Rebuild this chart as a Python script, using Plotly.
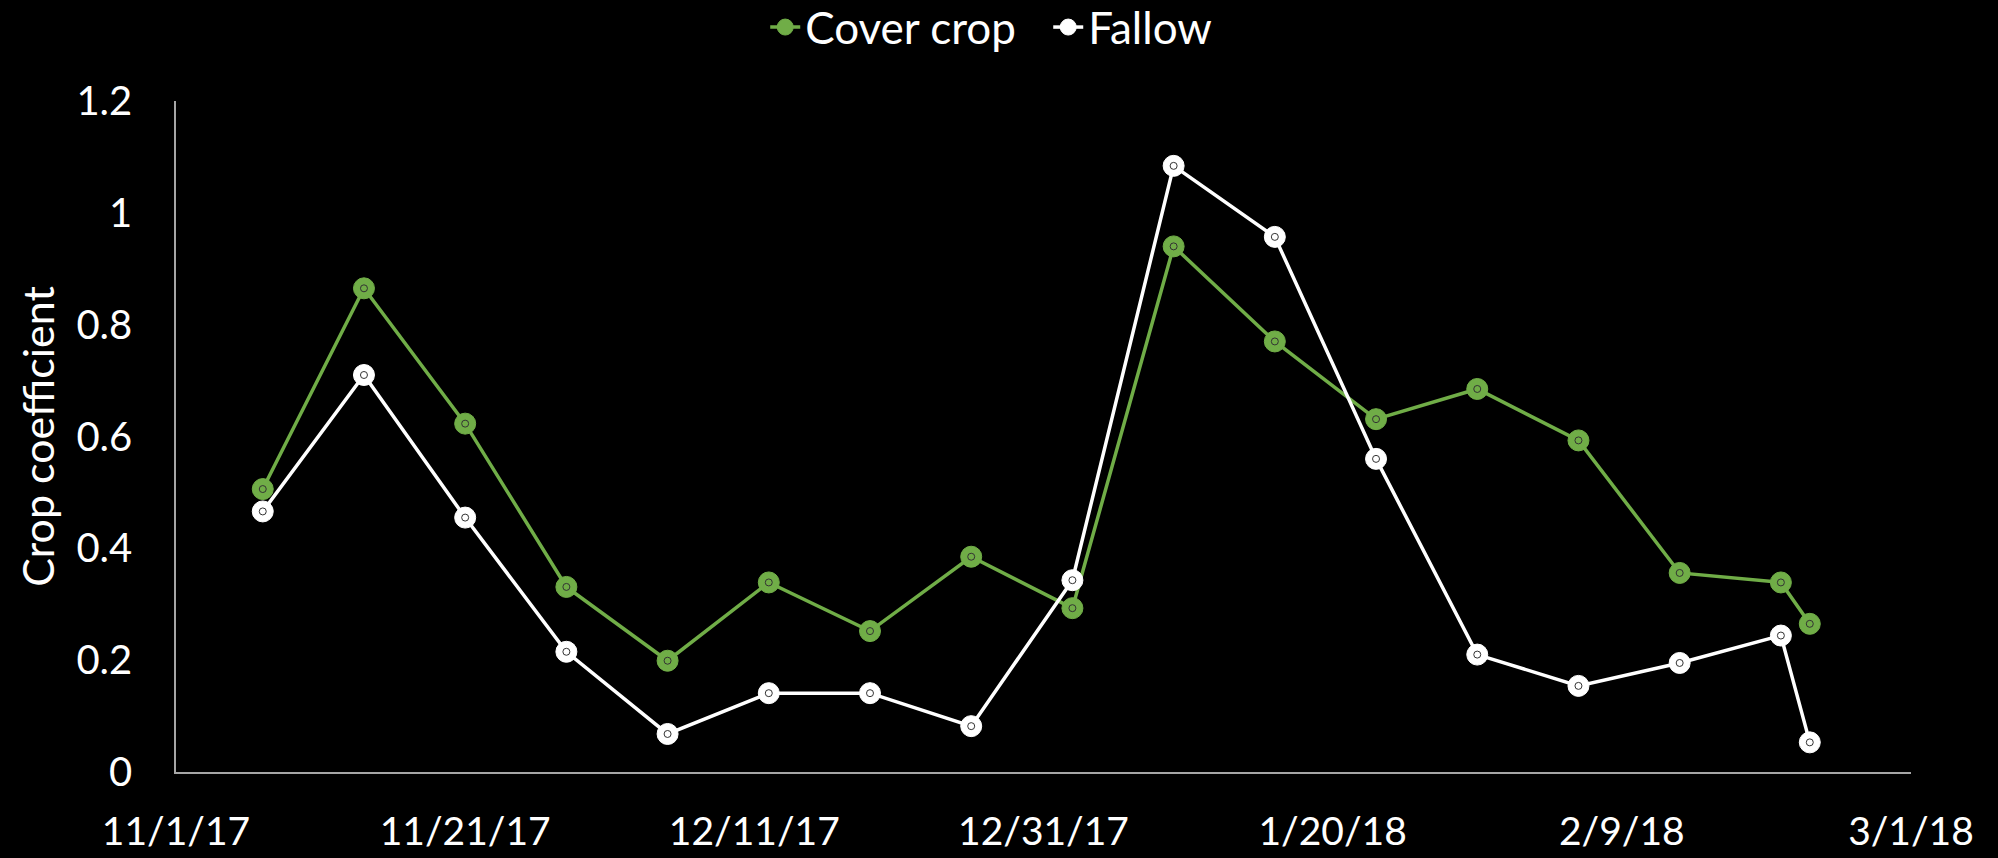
import plotly.graph_objects as go

# Sampling dates and crop coefficient values
dates = [
    "2017-11-07", "2017-11-14", "2017-11-21", "2017-11-28", "2017-12-05",
    "2017-12-12", "2017-12-19", "2017-12-26", "2018-01-02", "2018-01-09",
    "2018-01-16", "2018-01-23", "2018-01-30", "2018-02-06", "2018-02-13",
    "2018-02-20", "2018-02-22",
]
cover_crop = [
    0.506, 0.865, 0.623, 0.331, 0.199, 0.339, 0.252, 0.385, 0.293, 0.940,
    0.770, 0.631, 0.685, 0.593, 0.356, 0.339, 0.265,
]
fallow = [
    0.466, 0.710, 0.455, 0.215, 0.068, 0.141, 0.141, 0.082, 0.343, 1.084,
    0.957, 0.560, 0.210, 0.154, 0.195, 0.244, 0.053,
]

GREEN = "#70AD47"
WHITE = "#FFFFFF"
FONT = "Lato"

fig = go.Figure()

for name, values, color in [("Cover crop", cover_crop, GREEN), ("Fallow", fallow, WHITE)]:
    fig.add_trace(go.Scatter(
        x=dates, y=values, name=name, mode="lines+markers",
        line=dict(color=color, width=3.5),
        marker=dict(symbol="circle", size=21, color=color,
                    line=dict(color=color, width=1)),
    ))
    # small dark ring inside each marker
    fig.add_trace(go.Scatter(
        x=dates, y=values, mode="markers", showlegend=False, hoverinfo="skip",
        marker=dict(symbol="circle-open", size=7, color="#333333",
                    line=dict(color="#333333", width=1)),
    ))

fig.update_layout(
    width=1998, height=858,
    paper_bgcolor="black", plot_bgcolor="black",
    margin=dict(l=176, r=87, t=101, b=86),
    font=dict(family=FONT, color="white", size=40),
    showlegend=True,
    legend=dict(
        orientation="h", xref="container", yref="container",
        x=0.383, xanchor="left", y=0.968, yanchor="middle",
        font=dict(family=FONT, size=44, color="white"),
        bgcolor="rgba(0,0,0,0)", itemwidth=30, entrywidth=238,
    ),
    xaxis=dict(
        type="date",
        range=["2017-11-01", "2018-03-01"],
        tick0="2017-11-01", dtick=20 * 86400000,
        tickformat="%-m/%-d/%y",
        showgrid=False, zeroline=False, automargin=False,
        showline=True, linecolor="#a6a6a6", linewidth=2,
        ticks="", ticklabelstandoff=24,
        tickfont=dict(family=FONT, size=39, color="white"),
    ),
    yaxis=dict(
        range=[0, 1.2], dtick=0.2, tick0=0,
        showgrid=False, zeroline=False, automargin=False,
        showline=True, linecolor="#a6a6a6", linewidth=1.5,
        ticks="", ticklabelstandoff=34,
        tickfont=dict(family=FONT, size=40, color="white"),
        title=dict(text="Crop coefficient", standoff=8,
                   font=dict(family=FONT, size=43, color="white")),
    ),
)

fig.write_html("out.html")
